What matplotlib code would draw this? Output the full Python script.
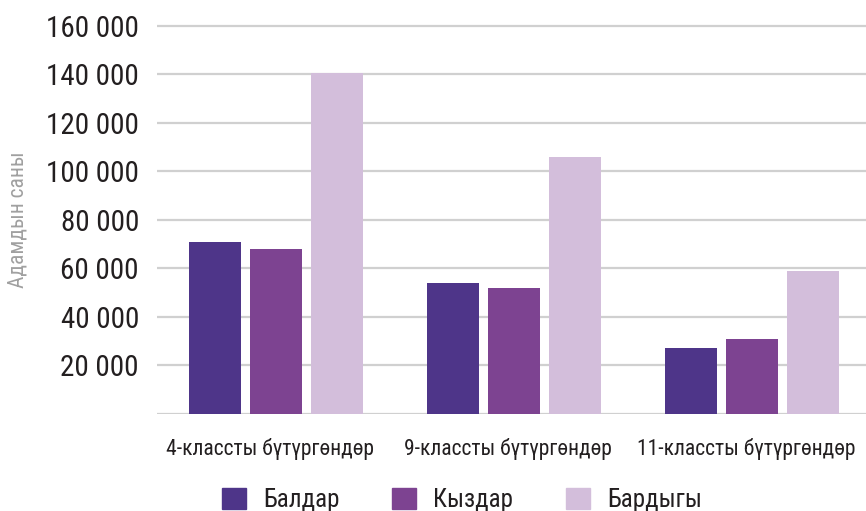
import numpy as np
import matplotlib
matplotlib.use("Agg")
import matplotlib.pyplot as plt
import matplotlib.patches as mpatches
import matplotlib.transforms as mtransforms
from matplotlib import font_manager

# data
categories = ["4-классты бүтүргөндөр", "9-классты бүтүргөндөр", "11-классты бүтүргөндөр"]
series_names = ["Балдар", "Кыздар", "Бардыгы"]
boys = [71000, 54000, 27200]
girls = [68000, 52000, 31000]
total = [140500, 106000, 59000]
yticks = [20000, 40000, 60000, 80000, 100000, 120000, 140000, 160000]
ylabel = "Адамдын саны"

values = {"Балдар": boys, "Кыздар": girls, "Бардыгы": total}
COLORS = {"Балдар": "#4e3589", "Кыздар": "#7d4391", "Бардыгы": "#d3bedb"}

available = {f.name for f in font_manager.fontManager.ttflist}
for fam in ["Roboto Condensed", "Liberation Sans Narrow", "Roboto"]:
    if fam in available:
        FONT = fam
        break
else:
    FONT = "DejaVu Sans"
plt.rcParams["font.family"] = [FONT, "DejaVu Sans"]

W, H = 866, 511
fig = plt.figure(figsize=(W / 100, H / 100), dpi=100)
ax_left, ax_right = 157, 866
ax_bottom, ax_top = 414, 21.1
ax = fig.add_axes([ax_left / W, 1 - ax_bottom / H, (ax_right - ax_left) / W, (ax_bottom - ax_top) / H])

x = np.arange(len(categories))
width = 52 / 238
offset = 61 / 238
for i, name in enumerate(series_names):
    ax.bar(x + (i - 1) * offset, values[name], width=width, color=COLORS[name], zorder=3)

ax.set_ylim(0, 162000)
ax.set_xlim(-0.5, -0.5 + (ax_right - ax_left) / 238)
ax.set_yticks(yticks)
ax.set_yticklabels([f"{v:,}".replace(",", " ") for v in yticks], fontsize=21, color="#231f20")
ax.set_xticks(x)
ax.set_xticklabels(categories, fontsize=15.5, color="#231f20")
ax.tick_params(axis="y", length=0, pad=13)
ax.tick_params(axis="x", length=0, pad=17)
# nudge category labels a little to the left, as in the original
shift = mtransforms.ScaledTranslation(-6 / 100, 0, fig.dpi_scale_trans)
for lbl in ax.get_xticklabels():
    lbl.set_transform(lbl.get_transform() + shift)
for s in ax.spines.values():
    s.set_visible(False)
for v in [0] + yticks:
    ax.axhline(v, color="#d0d0d0", lw=1.6, zorder=1)

fig.text(18 / W, 1 - 220 / H, ylabel, rotation=90, ha="center", va="center",
         fontsize=15.5, color="#a0a0a0")

handles = [mpatches.Patch(color=COLORS[n], label=n) for n in series_names]
fig.legend(handles=handles, loc="center", bbox_to_anchor=(462 / W, 1 - 500 / H), ncol=3,
           frameon=False, fontsize=18, handlelength=0.95, handleheight=0.95,
           handletextpad=0.7, columnspacing=2.1, borderpad=0, labelcolor="#231f20")

fig.savefig("out.png", dpi=100)
